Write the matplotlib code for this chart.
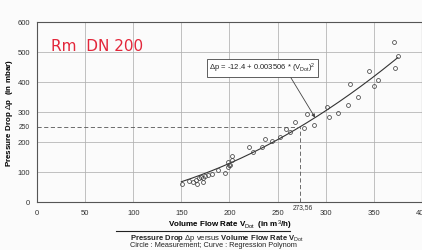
import numpy as np
import matplotlib
matplotlib.use('Agg')
import matplotlib.pyplot as plt

plt.rcParams['font.family'] = ['Liberation Sans', 'DejaVu Sans']
plt.rcParams['mathtext.fontset'] = 'custom'
plt.rcParams['mathtext.rm'] = 'Liberation Sans'
plt.rcParams['mathtext.bf'] = 'Liberation Sans:bold'
plt.rcParams['mathtext.it'] = 'Liberation Sans:italic'

# measured points (volume flow m3/h, pressure drop mbar)
flow = [151, 158, 162, 165, 166, 168, 170, 172, 173, 175, 178, 182, 188, 195,
        198, 200, 201, 198, 203, 203, 220, 224, 234, 237, 244, 253, 259, 263,
        268, 278, 281, 288, 301, 303, 313, 323, 325, 334, 345, 350, 354, 371,
        372, 375]
dp = [58, 68, 66, 72, 60, 78, 82, 67, 80, 87, 90, 92, 105, 97,
      116, 121, 124, 132, 138, 154, 183, 167, 183, 208, 201, 215, 243, 231,
      266, 247, 293, 255, 315, 281, 296, 322, 392, 349, 437, 386, 405, 532,
      446, 487]

# regression polynom dp = c0 + c2 * V^2
c0 = -12.4
c2 = 0.003506
v_min, v_max = 150, 375
dp_ref = 250
v_ref = 273.56

x_ticks = [0, 50, 100, 150, 200, 250, 300, 350, 400]
y_ticks = [0, 100, 200, 300, 400, 500, 600]

fig = plt.figure(figsize=(4.22, 2.51), dpi=100)
fig.patch.set_facecolor('#fbfbfb')
ax = fig.add_axes([0.0877, 0.1924, 0.912, 0.717])
ax.set_facecolor('#fbfbfb')

ax.set_xlim(0, 400)
ax.set_ylim(0, 600)
ax.set_xticks(x_ticks)
ax.set_yticks(y_ticks)
ax.tick_params(length=0, labelsize=5.5, colors='#333333', pad=5)
ax.grid(True, color='#b0b0b0', linewidth=0.55)
for s in ax.spines.values():
    s.set_color('#555555')
    s.set_linewidth(0.8)

vv = np.linspace(v_min, v_max, 200)
ax.plot(vv, c0 + c2 * vv ** 2, color='#333333', linewidth=0.8)
ax.plot(flow, dp, 'o', mfc='none', mec='#444444', ms=2.8, mew=0.55)

# 250 mbar reference lines
ax.plot([0, v_ref], [dp_ref, dp_ref], color='#555555', linestyle=(0, (5, 3)), linewidth=0.6)
ax.plot([v_ref, v_ref], [0, dp_ref], color='#555555', linestyle=(0, (5, 3)), linewidth=0.6)
ax.text(-8, dp_ref, '250', fontsize=4.8, color='#333333', ha='right', va='center')
ax.text(v_ref + 3, -6, '273,56', fontsize=4.8, color='#333333', ha='center', va='top')

ax.annotate(r'$\Delta$p = -12.4 + 0.003506 * (V$_{\rm Dot}$)$^2$',
            xy=(289, c0 + c2 * 289 ** 2), xytext=(234, 447),
            fontsize=5.5, ha='center', va='center', color='#222222',
            bbox=dict(boxstyle='square,pad=0.3', fc='white', ec='#444444', lw=0.6),
            arrowprops=dict(arrowstyle='-|>', color='#444444', lw=0.6,
                            mutation_scale=5, shrinkA=0, shrinkB=0,
                            relpos=(0.75, 0)))

ax.set_xlabel(r'Volume Flow Rate V$_{\rm Dot}$  (in m$^{3}$/h)', fontsize=5.8,
              fontweight='bold', labelpad=1.5)
ax.set_ylabel(r'Pressure Drop $\Delta$p  (in mbar)', fontsize=5.8,
              fontweight='bold', labelpad=2)

ax.text(15, 522, 'Rm  DN 200', fontsize=11, color='#e3263a', va='center',
        fontfamily='DejaVu Sans', fontweight='normal')

fig.add_artist(plt.Line2D([116 / 422, 290 / 422], [1 - 232 / 251] * 2,
                          color='#222222', linewidth=0.8))
fig.text(130 / 422, 1 - 238.5 / 251,
         r'$\bf{Pressure\ Drop}$ $\Delta$p versus $\bf{Volume\ Flow\ Rate\ V}$$_{\rm Dot}$',
         fontsize=5.5, va='center', color='#222222')
fig.text(130 / 422, 1 - 246 / 251,
         'Circle : Measurement; Curve : Regression Polynom',
         fontsize=5.3, va='center', color='#222222')

fig.savefig('out.png', dpi=100)
